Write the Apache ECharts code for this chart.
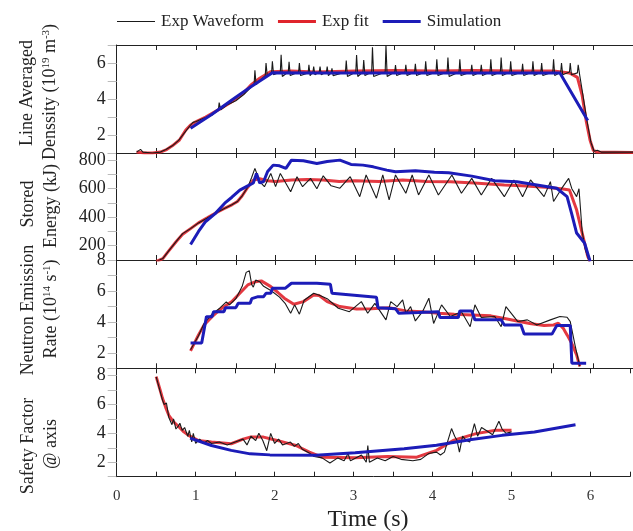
<!DOCTYPE html>
<html><head><meta charset="utf-8">
<script src="https://cdn.jsdelivr.net/npm/echarts@6/dist/echarts.min.js"></script>
<style>html,body{margin:0;padding:0;background:#fff}#c{width:633px;height:531px}</style>
</head><body><div id="c"></div>
<script>
// ---------- DATA ----------
const seriesNames = ['Exp Waveform', 'Exp fit', 'Simulation'];
const xTickLabels = [0, 1, 2, 3, 4, 5, 6];

// Panel 1: line averaged density (1e19 m^-3)
const densWave = [[0.25,1.05],[0.3,1.2],[0.33,1.05],[0.45,1.0],[0.55,1.05],[0.62,1.2],[0.7,1.4],[0.78,1.7],[0.85,2.1],[0.92,2.5],[0.96,2.7],[1.0,2.75],[1.1,2.95],[1.2,3.1],[1.28,3.4],[1.29,3.8],[1.31,3.4],[1.4,3.7],[1.5,3.9],[1.6,4.25],[1.68,4.6],[1.73,4.8],[1.74,5.6],[1.755,4.8],[1.8,5.0],[1.87,5.3],[1.88,6.0],[1.895,5.3],[1.95,5.45],[1.96,6.1],[1.975,5.35],[2.06,5.5],[2.07,6.45],[2.085,5.25],[2.16,5.5],[2.17,6.07],[2.185,5.3],[2.29,5.5],[2.3,6.0],[2.315,5.3],[2.41,5.45],[2.42,5.9],[2.435,5.3],[2.47,5.5],[2.48,5.8],[2.495,5.35],[2.55,5.5],[2.56,5.8],[2.575,5.35],[2.64,5.5],[2.65,5.8],[2.665,5.3],[2.7,5.45],[2.71,5.7],[2.725,5.3],[2.88,5.5],[2.89,6.13],[2.905,5.25],[3.01,5.5],[3.02,6.44],[3.035,5.25],[3.1,5.5],[3.11,6.17],[3.125,5.3],[3.21,5.5],[3.22,6.87],[3.235,5.25],[3.38,5.5],[3.39,7.0],[3.405,5.25],[3.5,5.5],[3.51,5.89],[3.525,5.3],[3.63,5.5],[3.64,5.9],[3.655,5.3],[3.75,5.5],[3.76,5.95],[3.775,5.3],[3.88,5.5],[3.89,6.1],[3.905,5.3],[4.02,5.5],[4.03,6.2],[4.045,5.3],[4.16,5.5],[4.17,6.3],[4.185,5.25],[4.31,5.5],[4.32,6.2],[4.335,5.3],[4.46,5.5],[4.47,5.9],[4.485,5.3],[4.58,5.5],[4.59,5.9],[4.605,5.3],[4.7,5.5],[4.71,6.2],[4.725,5.3],[4.83,5.5],[4.84,6.3],[4.855,5.3],[4.95,5.5],[4.96,6.1],[4.975,5.3],[5.1,5.5],[5.11,5.95],[5.125,5.3],[5.23,5.5],[5.24,6.1],[5.255,5.3],[5.34,5.5],[5.35,6.0],[5.365,5.3],[5.49,5.5],[5.5,6.2],[5.515,5.3],[5.59,5.5],[5.6,6.0],[5.615,5.35],[5.7,5.5],[5.71,6.0],[5.725,5.35],[5.8,5.45],[5.81,5.9],[5.83,5.3],[5.87,4.2],[5.92,2.8],[5.97,1.6],[6.01,1.1],[6.05,1.15],[6.1,1.05],[6.5,1.05]];
const densFit = [[0.25,1.05],[0.35,1.0],[0.45,1.0],[0.55,1.05],[0.62,1.17],[0.7,1.4],[0.79,1.72],[0.87,2.28],[0.93,2.56],[1.0,2.75],[1.12,3.0],[1.3,3.45],[1.45,3.85],[1.6,4.35],[1.69,4.78],[1.8,5.15],[1.94,5.52],[2.2,5.55],[2.5,5.5],[3.0,5.55],[3.5,5.58],[4.0,5.55],[4.5,5.58],[5.0,5.55],[5.5,5.55],[5.7,5.45],[5.8,5.2],[5.86,4.2],[5.91,2.8],[5.96,1.7],[6.0,1.15],[6.05,1.05],[6.5,1.03]];
const densSim = [[0.93,2.37],[1.2,3.15],[1.45,3.94],[1.69,4.68],[1.96,5.46],[2.5,5.45],[3.0,5.45],[3.5,5.45],[4.0,5.45],[4.5,5.45],[5.0,5.45],[5.58,5.45],[5.93,2.8]];

// Panel 2: stored energy (kJ)
const weWave = [[0.5,90],[0.58,110],[0.65,160],[0.75,230],[0.83,285],[0.93,320],[1.03,360],[1.14,395],[1.24,428],[1.35,460],[1.45,487],[1.52,510],[1.58,550],[1.65,610],[1.7,680],[1.74,742],[1.8,650],[1.86,614],[1.94,707],[2.0,614],[2.06,707],[2.19,579],[2.27,684],[2.34,614],[2.44,672],[2.52,600],[2.6,690],[2.7,620],[2.81,603],[2.94,684],[3.06,544],[3.14,696],[3.27,533],[3.35,696],[3.43,521],[3.51,696],[3.64,568],[3.72,696],[3.8,556],[3.93,696],[4.05,556],[4.22,696],[4.34,568],[4.47,672],[4.59,556],[4.72,672],[4.88,544],[5.0,661],[5.11,544],[5.21,661],[5.38,544],[5.46,649],[5.5,510],[5.6,600],[5.69,672],[5.73,600],[5.79,544],[5.82,600],[5.86,300],[5.9,173],[5.95,90]];
const weFit = [[0.5,90],[0.58,110],[0.65,160],[0.75,230],[0.83,280],[0.93,320],[1.03,360],[1.14,395],[1.24,428],[1.35,460],[1.45,487],[1.52,510],[1.58,550],[1.65,610],[1.72,660],[1.8,670],[1.9,655],[2.0,650],[2.2,660],[2.4,665],[2.6,660],[2.8,650],[3.0,655],[3.3,650],[3.6,660],[3.9,650],[4.2,648],[4.5,640],[4.88,626],[5.1,620],[5.4,610],[5.62,598],[5.7,591],[5.79,452],[5.87,265],[5.93,126],[5.96,90]];
const weSim = [[0.93,208],[1.03,300],[1.12,370],[1.24,425],[1.36,498],[1.45,540],[1.55,590],[1.65,620],[1.72,640],[1.76,707],[1.8,640],[1.85,650],[1.9,720],[1.97,765],[2.05,760],[2.13,742],[2.2,800],[2.35,795],[2.52,777],[2.65,790],[2.81,800],[2.95,770],[3.1,765],[3.23,753],[3.4,730],[3.51,718],[3.76,725],[4.0,715],[4.18,711],[4.47,688],[4.76,656],[5.04,649],[5.29,626],[5.54,603],[5.67,544],[5.73,420],[5.79,289],[5.89,219],[5.96,90]];

// Panel 3: neutron emission rate (1e14 s^-1)
const nrWave = [[0.93,2.2],[1.03,3.1],[1.1,3.9],[1.2,4.5],[1.3,4.9],[1.38,5.3],[1.42,5.1],[1.5,5.5],[1.58,6.3],[1.63,7.2],[1.67,7.3],[1.7,6.4],[1.72,6.25],[1.75,6.7],[1.8,6.6],[1.85,6.3],[1.95,6.0],[2.05,5.6],[2.12,5.2],[2.19,4.56],[2.24,5.1],[2.3,4.5],[2.36,5.4],[2.48,5.85],[2.56,5.7],[2.65,5.5],[2.79,4.88],[2.93,4.66],[3.08,5.31],[3.16,4.56],[3.25,5.2],[3.39,4.13],[3.45,5.31],[3.53,4.99],[3.6,5.42],[3.64,4.56],[3.7,4.99],[3.76,4.06],[3.85,4.66],[3.93,5.53],[3.99,3.9],[4.09,5.1],[4.2,4.35],[4.34,4.66],[4.45,3.69],[4.51,5.1],[4.59,4.28],[4.76,4.35],[4.84,3.69],[4.9,4.99],[5.05,4.02],[5.17,4.13],[5.29,3.8],[5.46,4.13],[5.58,4.35],[5.67,4.3],[5.71,4.02],[5.77,2.5],[5.83,1.12]];
const nrFit = [[0.93,2.13],[1.03,3.16],[1.1,3.8],[1.2,4.34],[1.3,4.8],[1.45,5.31],[1.55,5.85],[1.65,6.39],[1.75,6.6],[1.82,6.65],[1.94,6.28],[2.03,5.9],[2.11,5.53],[2.23,5.14],[2.35,5.31],[2.48,5.74],[2.55,5.7],[2.65,5.31],[2.81,4.99],[3.02,4.84],[3.2,4.85],[3.43,4.92],[3.64,4.71],[3.85,4.65],[4.05,4.56],[4.25,4.5],[4.47,4.45],[4.71,4.39],[4.9,4.2],[5.04,4.06],[5.2,3.9],[5.38,3.76],[5.5,3.8],[5.56,3.91],[5.62,3.6],[5.67,3.16],[5.73,2.6],[5.79,1.87],[5.83,1.12]];
const nrSim = [[0.93,2.63],[1.07,2.63],[1.13,4.34],[1.2,4.34],[1.22,4.66],[1.35,4.66],[1.37,4.92],[1.5,4.92],[1.53,5.2],[1.68,5.2],[1.7,5.5],[1.78,5.63],[1.85,5.63],[1.88,5.85],[1.94,5.85],[1.96,6.17],[2.12,6.17],[2.2,6.5],[2.52,6.5],[2.69,6.43],[2.71,5.85],[3.27,5.6],[3.29,4.92],[3.51,4.85],[3.55,4.56],[3.8,4.6],[4.05,4.66],[4.07,4.28],[4.3,4.28],[4.32,4.71],[4.47,4.71],[4.51,4.13],[4.84,4.13],[4.88,3.8],[5.09,3.8],[5.13,3.21],[5.48,3.21],[5.54,3.76],[5.71,3.76],[5.73,1.33],[5.91,1.33]];

// Panel 4: safety factor on axis
const qWave = [[0.5,7.9],[0.55,6.9],[0.58,6.3],[0.6,6.0],[0.63,6.1],[0.66,5.1],[0.7,4.6],[0.72,5.0],[0.75,4.3],[0.78,4.5],[0.8,4.7],[0.83,4.2],[0.86,4.4],[0.9,3.8],[0.92,4.2],[0.95,3.4],[0.97,4.0],[1.0,3.3],[1.05,3.6],[1.1,3.3],[1.15,3.5],[1.2,3.3],[1.3,3.4],[1.4,3.2],[1.5,3.4],[1.6,3.6],[1.65,3.2],[1.7,3.8],[1.76,3.5],[1.8,4.0],[1.85,3.5],[1.9,2.8],[1.95,4.0],[2.0,3.3],[2.05,3.6],[2.1,3.2],[2.2,3.4],[2.25,3.1],[2.3,3.3],[2.35,2.9],[2.45,2.6],[2.5,2.4],[2.6,2.3],[2.7,1.95],[2.8,2.3],[2.88,2.1],[2.93,2.6],[2.96,2.1],[3.1,2.5],[3.16,2.0],[3.18,3.16],[3.2,2.0],[3.3,2.3],[3.4,2.1],[3.5,2.4],[3.6,2.2],[3.75,2.1],[3.85,2.2],[3.95,2.6],[4.05,2.7],[4.1,2.5],[4.15,2.7],[4.24,4.33],[4.28,3.8],[4.31,3.5],[4.34,2.7],[4.38,3.8],[4.43,3.5],[4.47,3.4],[4.53,4.67],[4.57,3.8],[4.62,4.4],[4.68,4.2],[4.76,3.9],[4.84,4.84],[4.88,4.3],[4.93,4.0],[5.0,4.1]];
const qFit = [[0.5,7.92],[0.55,7.0],[0.58,6.42],[0.62,5.8],[0.66,5.25],[0.72,4.8],[0.79,4.44],[0.85,4.1],[0.91,3.86],[1.03,3.51],[1.2,3.4],[1.45,3.28],[1.6,3.6],[1.69,3.74],[1.86,3.74],[2.03,3.51],[2.27,3.16],[2.44,2.7],[2.6,2.35],[3.02,2.31],[3.43,2.4],[3.8,2.35],[4.05,2.82],[4.26,3.51],[4.55,3.98],[4.8,4.21],[5.0,4.21]];
const qSim = [[0.93,3.67],[1.2,3.16],[1.45,2.82],[1.69,2.58],[1.94,2.51],[2.52,2.49],[3.02,2.65],[3.64,2.93],[4.05,3.18],[4.47,3.56],[4.88,3.86],[5.29,4.09],[5.81,4.6]];

// y-axis ranges and labelled ticks per panel
const yRanges = [[1, 7, 1], [100, 850, 100], [1, 8, 1], [1, 8.5, 1]];
const yTickLabels = [[2, 4, 6], [200, 400, 600, 800], [2, 4, 6, 8], [2, 4, 6, 8]];

// ---------- CHART ----------
const FONT = '"Liberation Serif","Times New Roman",serif';
const colors = ['#1a1a1a', '#e0242c', '#1c1cb8'];
const legendIcons = ['path://M0,0L0,6M0,2.4H40V3.6H0Z', 'path://M0,0L0,6M0,1.5H40V4.5H0Z', 'path://M0,0L0,6M0,1.5H40V4.5H0Z'];
const panelData = [[densWave, densFit, densSim], [weWave, weFit, weSim], [nrWave, nrFit, nrSim], [qWave, qFit, qSim]];
const grids = [
  {left: 116.7, width: 524, top: 45, height: 108},
  {left: 116.7, width: 524, top: 153, height: 107},
  {left: 116.7, width: 524, top: 260, height: 108.3},
  {left: 116.7, width: 524, top: 368.3, height: 108.4}
];
const xAxes = [], yAxes = [], series = [];
const axLine = {show: true, lineStyle: {color: '#222', width: 1}};
grids.forEach((g, i) => {
  xAxes.push({gridIndex: i, type: 'value', min: 0, max: 6.5, interval: 0.5, position: 'bottom',
    axisLine: axLine, axisTick: {show: true, inside: true, length: 5, lineStyle: {color: '#222'}},
    splitLine: {show: false},
    axisLabel: {show: i === 3, margin: 12, color: '#333', fontFamily: FONT, fontSize: 15,
      formatter: v => xTickLabels.includes(v) ? String(v) : ''}});
  xAxes.push({gridIndex: i, type: 'value', min: 0, max: 6.5, interval: 0.5, position: 'top',
    axisLine: axLine, axisTick: {show: true, inside: true, length: 5, lineStyle: {color: '#222'}},
    splitLine: {show: false}, axisLabel: {show: false}});
  const r = yRanges[i];
  yAxes.push({gridIndex: i, type: 'value', min: r[0], max: r[1], interval: r[2], position: 'left',
    axisLine: axLine, axisTick: {show: true, inside: false, length: 6, lineStyle: {color: '#222'}},
    splitLine: {show: false},
    axisLabel: {margin: 11, color: '#222', fontFamily: FONT, fontSize: 18,
      formatter: v => yTickLabels[i].includes(v) ? String(v) : ''}});
  yAxes.push({gridIndex: i, type: 'value', min: r[0], max: r[1], interval: r[2], position: 'right',
    axisLine: {show: false}, axisTick: {show: true, inside: true, length: 9, lineStyle: {color: '#bbb'}},
    splitLine: {show: false}, axisLabel: {show: false}});
  const order = [1, 0, 2];
  order.forEach(k => {
    series.push({
      name: seriesNames[k], type: 'line', xAxisIndex: i * 2, yAxisIndex: i * 2,
      data: panelData[i][k], showSymbol: false, symbol: 'none', silent: true,
      lineStyle: {color: colors[k], width: k === 0 ? 1.1 : 3, opacity: k === 1 ? 0.9 : 1},
      itemStyle: {color: colors[k]}, z: k === 2 ? 4 : (k === 0 ? 3 : 2)
    });
  });
});

function vtext(x, y, text, rich) {
  return {type: 'text', x: x, y: y, rotation: Math.PI / 2, silent: true,
    style: {text: text, fill: '#222', fontFamily: FONT, fontSize: 18,
      align: 'center', verticalAlign: 'middle', rich: rich || {}}};
}
const supRich = {sup: {fontSize: 11, fontFamily: FONT, verticalAlign: 'top', fill: '#222', lineHeight: 18}};

const chart = echarts.init(document.getElementById('c'), null, {renderer: 'canvas'});
chart.setOption({
  animation: false,
  backgroundColor: '#fff',
  legend: {
    left: 112, top: 8, itemWidth: 38, itemHeight: 6, itemGap: 14,
    data: seriesNames.map((n, k) => ({name: n, icon: legendIcons[k]})),
    itemStyle: {borderWidth: 0},
    textStyle: {fontFamily: FONT, fontSize: 17, color: '#222', padding: [0, 0, 0, 1]}
  },
  grid: grids,
  xAxis: xAxes,
  yAxis: yAxes,
  series: series,
  graphic: [
    vtext(27, 93, 'Line Averaged'),
    vtext(50, 92, 'Denssity (10{sup|19} m{sup|-3})', supRich),
    vtext(28, 204, 'Stored'),
    vtext(51, 206, 'Energy (kJ)'),
    vtext(28, 310, 'Neutron Emission'),
    vtext(51, 309, 'Rate (10{sup|14} s{sup|-1})', supRich),
    vtext(28, 446, 'Safety Factor'),
    vtext(51, 444, '@ axis'),
    {type: 'text', x: 368, y: 520, silent: true,
      style: {text: 'Time (s)', fill: '#222', fontFamily: FONT, fontSize: 24, align: 'center', verticalAlign: 'middle'}}
  ]
});
</script>
</body></html>
